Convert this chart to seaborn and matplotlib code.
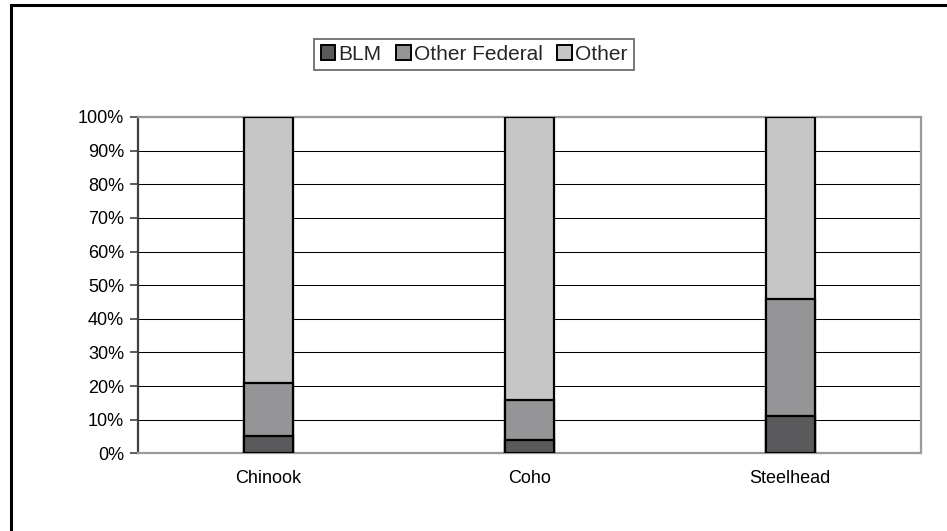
import matplotlib
matplotlib.use("Agg")
import matplotlib.pyplot as plt
from matplotlib.patches import Rectangle, Patch
from matplotlib.ticker import FixedLocator, PercentFormatter
import numpy as np
import pandas as pd
import seaborn as sns

# Share of habitat by land ownership, per species (percent)
species = ["Chinook", "Coho", "Steelhead"]
blm = [5, 4, 11]
other_federal = [16, 12, 35]
other = [79, 84, 54]

series_names = ["BLM", "Other Federal", "Other"]
series_colors = ["#5a5a5c", "#959598", "#c6c6c6"]

sns.set_theme(style="white")
plt.rcParams["font.family"] = ["Liberation Sans", "DejaVu Sans"]

df = pd.DataFrame({
    "species": species,
    "BLM": blm,
    "Other Federal": other_federal,
    "Other": other,
})
# cumulative tops for stacking: draw the tallest first, then overlay lower segments
df["top_other"] = df["BLM"] + df["Other Federal"] + df["Other"]
df["top_of"] = df["BLM"] + df["Other Federal"]
df["top_blm"] = df["BLM"]

fig = plt.figure(figsize=(9.47, 5.31), dpi=100)
ax = fig.add_axes([0.1457, 0.1463, 0.8265, 0.6334])

bar_w = 0.187
for col, color in zip(["top_other", "top_of", "top_blm"], series_colors[::-1]):
    sns.barplot(data=df, x="species", y=col, color=color, width=bar_w,
                edgecolor="black", linewidth=1.6, saturation=1, ax=ax, zorder=3)

ax.set_xlim(-0.5, 2.5)
ax.set_ylim(0, 100)
ax.set_xlabel("")
ax.set_ylabel("")

ax.yaxis.set_major_locator(FixedLocator(np.arange(0, 101, 10)))
ax.yaxis.set_major_formatter(PercentFormatter(decimals=0))
ax.grid(axis="y", color="black", linewidth=0.75, zorder=0)
ax.grid(axis="x", visible=False)

ax.xaxis.set_minor_locator(FixedLocator([-0.5, 0.5, 1.5, 2.5]))
ax.tick_params(axis="x", which="major", length=0, pad=12, labelsize=13, colors="black")
ax.tick_params(axis="x", which="minor", length=6, width=1.2, direction="out", color="#404040")
ax.tick_params(axis="y", length=6, width=1.2, direction="out", color="#404040",
               labelsize=13, labelcolor="black", pad=4)
ax.tick_params(axis="both", bottom=True, left=True)

for side in ["top", "right", "bottom"]:
    ax.spines[side].set_color("#9a9a9a")
    ax.spines[side].set_linewidth(1.6)
ax.spines["left"].set_color("#404040")
ax.spines["left"].set_linewidth(1.6)
for s in ax.spines.values():
    s.set_visible(True)

handles = [Patch(facecolor=c, edgecolor="black", linewidth=1.4, label=n)
           for n, c in zip(series_names, series_colors)]
leg = fig.legend(handles=handles, loc="center", bbox_to_anchor=(474 / 947, 1 - 54.5 / 531),
                 ncol=3, frameon=True, fancybox=False, fontsize=15,
                 handlelength=0.7, handleheight=0.7, handletextpad=0.15,
                 columnspacing=0.7, borderpad=0.3, borderaxespad=0)
leg.get_frame().set_edgecolor("#555555")
leg.get_frame().set_linewidth(1.4)

# outer chart frame
fig.patches.append(Rectangle((11 / 947, -0.1), 1.2, 1.1 - 5 / 531,
                             transform=fig.transFigure, fill=False,
                             edgecolor="black", linewidth=2.2))

fig.savefig("out.png", dpi=100)
